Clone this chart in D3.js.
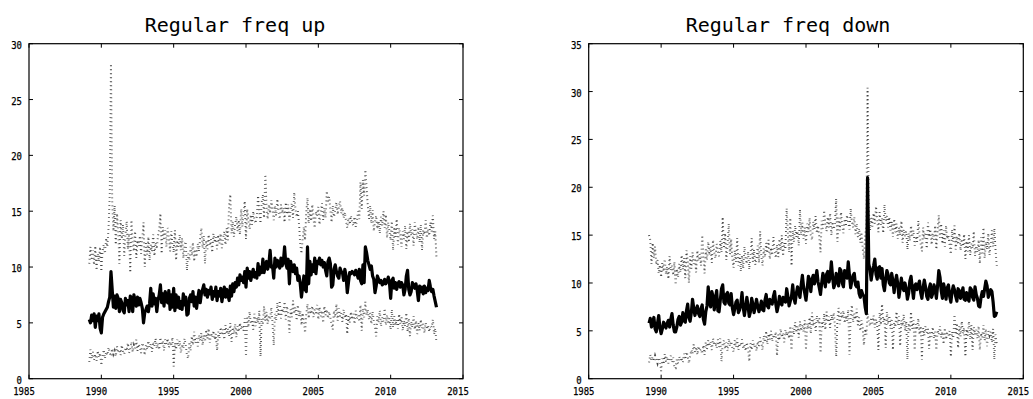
<!DOCTYPE html>
<html><head><meta charset="utf-8">
<script src="https://cdn.jsdelivr.net/npm/d3@7"></script>
<style>
body{margin:0;background:#fff}
svg{display:block}
</style></head><body>
<svg id="chart" width="1033" height="399"></svg>
<script>
// Monthly series, March 1989 through March 2013
const startYear = 1989, startMonth = 3;

// Regular freq up: mean with upper / lower bounds
const upMean = [
 5.3,5.0,5.7,5.2,5.8,4.6,5.6,5.2,5.8,4.5,
 4.1,5.5,5.8,6.0,6.2,6.4,6.9,7.3,9.6,8.0,6.4,7.4,
 6.3,7.5,7.2,6.0,7.1,6.8,6.1,5.9,7.2,6.6,7.0,6.0,
 7.4,7.2,6.0,7.5,7.0,6.5,7.3,6.6,7.2,6.8,6.3,5.0,
 5.9,6.2,6.5,6.0,6.7,8.1,6.5,7.6,6.7,7.2,6.0,7.0,
 7.5,8.4,6.8,7.6,6.5,7.8,7.1,6.8,7.9,6.2,7.5,6.4,
 8.1,6.1,7.5,6.4,7.3,6.3,6.9,6.2,7.6,6.6,7.3,5.7,
 5.8,7.2,7.5,6.9,7.8,6.5,7.3,6.3,7.2,7.9,6.8,7.6,
 8.0,8.4,7.5,8.0,7.3,7.9,7.6,8.2,7.1,7.8,7.4,8.2,
 7.0,7.8,7.4,8.1,6.9,7.6,8.2,7.3,8.0,7.5,7.0,8.3,
 7.4,8.5,7.8,8.6,8.2,9.0,8.4,9.3,8.8,9.1,8.6,9.6,
 8.2,9.9,9.0,9.6,8.8,9.4,9.8,9.1,9.5,9.0,10.3,9.3,
 10.0,9.5,10.7,9.5,10.2,10.5,9.8,10.3,11.5,10.0,10.1,9.0,
 10.8,10.0,10.6,10.3,9.9,10.8,10.1,10.5,11.8,10.3,9.9,10.7,
 8.5,10.5,10.0,9.6,10.2,9.4,9.9,8.8,9.2,8.5,7.3,8.2,
 9.2,8.0,7.8,11.8,8.5,10.5,9.3,10.2,9.6,10.8,9.4,10.5,
 10.3,10.8,10.2,10.6,10.0,10.4,9.7,9.2,10.5,10.8,10.3,8.2,
 8.4,9.8,10.2,9.6,9.2,9.0,9.9,9.6,9.5,8.8,9.8,9.2,
 7.7,8.6,9.5,9.4,9.6,9.5,9.3,9.7,9.4,9.0,9.8,8.8,
 8.5,10.2,8.6,11.8,11.3,10.6,10.2,9.8,10.1,9.2,8.9,7.7,
 8.3,9.2,8.9,8.6,8.8,8.4,8.5,8.9,8.5,8.7,9.1,8.6,
 7.2,8.8,9.0,8.1,8.6,8.0,8.5,8.7,8.2,8.6,8.4,7.5,
 8.0,9.2,9.7,8.0,7.5,7.8,8.6,8.4,8.1,8.5,7.9,7.0,
 8.3,7.8,8.2,7.6,8.3,7.7,8.1,7.9,8.8,8.2,7.8,8.0,
 7.4,6.9,6.4
];
const upHi = [
 10.3,11.8,10.6,11.5,10.2,11.9,9.7,11.2,10.5,11.8,
 9.6,11.4,12.0,11.2,12.6,11.8,13.5,16.5,28.2,16.0,13.2,15.5,
 12.0,14.8,13.4,10.3,14.2,12.5,13.8,11.0,12.9,14.1,11.6,13.0,
 9.5,14.2,12.1,11.4,13.2,10.8,12.4,11.9,12.8,11.2,12.6,14.0,
 10.0,12.3,11.1,12.7,10.6,12.0,11.4,12.9,11.0,12.2,11.6,12.8,
 13.4,14.8,11.2,13.6,12.4,13.3,11.8,13.5,12.7,11.4,13.2,12.1,
 11.3,13.3,10.6,12.4,11.8,12.9,11.5,12.6,10.8,11.9,12.3,9.7,
 11.2,10.6,11.8,11.0,12.2,10.5,11.6,10.9,12.1,11.4,12.6,13.5,
 11.7,12.8,10.3,12.4,11.6,12.9,11.9,12.5,11.3,13.0,12.2,12.7,
 11.6,12.9,12.1,13.0,11.7,12.6,13.2,12.0,13.5,12.4,15.6,16.5,
 13.0,14.1,12.7,13.8,14.5,13.2,14.2,12.9,15.2,13.6,14.8,15.9,
 12.5,15.2,14.1,13.4,14.7,13.8,15.0,14.2,13.9,14.6,16.4,15.1,
 13.9,15.8,16.5,14.4,18.3,15.4,14.3,15.6,14.8,16.0,15.2,14.2,
 15.5,14.6,16.1,15.0,14.3,15.6,14.8,15.3,14.0,15.8,14.7,15.6,
 14.2,15.1,15.7,14.4,16.7,15.2,14.5,15.0,13.8,12.0,11.2,12.5,
 13.6,12.4,14.8,16.2,13.9,15.2,14.1,15.6,14.3,13.5,15.0,14.6,
 15.4,13.8,14.9,15.7,14.2,15.3,14.4,16.8,15.9,16.3,15.1,14.0,
 15.5,14.5,15.1,15.8,14.7,15.4,15.9,14.8,15.3,14.4,14.9,14.1,
 13.5,14.4,13.8,14.6,14.0,13.7,14.5,13.6,14.2,15.0,14.3,17.6,
 15.2,17.8,16.4,18.7,17.2,15.6,14.3,15.5,13.9,15.1,13.2,14.0,
 14.6,13.4,14.1,13.0,14.5,13.7,15.0,13.5,14.7,12.6,14.0,13.2,
 12.4,14.1,11.5,13.6,12.7,14.3,12.0,13.5,12.9,11.8,13.2,12.5,
 13.7,11.6,13.2,12.2,13.9,12.8,13.4,11.9,14.0,13.1,12.5,13.6,
 12.2,13.8,11.5,13.3,12.9,14.2,12.6,13.4,12.8,14.0,13.2,14.6,
 12.5,13.2,10.9
];
const upLo = [
 1.5,2.6,1.8,2.4,1.7,2.2,1.6,2.5,1.9,2.3,
 1.2,2.0,2.6,1.8,2.4,2.1,2.8,2.3,2.0,2.7,2.2,2.5,
 2.0,2.9,2.3,2.6,2.1,3.0,2.4,2.2,2.8,2.5,3.2,2.3,
 2.6,3.3,2.4,3.0,2.7,3.5,2.5,3.1,2.8,2.3,3.2,2.9,
 2.1,3.0,2.6,3.4,2.8,3.1,2.4,3.3,2.9,3.6,2.7,3.2,
 2.6,3.7,3.0,3.4,2.5,3.5,3.1,3.6,2.8,3.3,2.9,3.7,
 1.1,3.2,2.6,3.5,2.9,3.4,2.3,3.1,2.7,3.6,3.0,2.1,
 1.8,3.3,2.5,3.8,3.0,4.2,3.2,3.6,2.9,3.9,3.4,4.1,
 3.0,3.9,3.3,4.4,3.6,4.5,3.2,4.1,3.7,4.3,3.5,4.0,
 2.5,4.2,3.6,4.6,3.9,4.4,3.5,4.8,4.0,4.5,3.8,5.0,
 3.3,4.6,4.0,4.9,3.7,4.7,4.2,5.0,4.4,4.8,4.3,5.4,
 2.0,5.6,4.6,6.0,4.9,5.3,4.4,5.8,4.7,5.5,5.0,6.1,
 2.0,5.4,4.8,6.5,5.2,6.0,4.9,5.7,5.3,6.4,5.0,3.0,
 5.8,5.2,6.8,5.6,7.0,5.4,6.3,5.9,6.9,5.3,6.5,5.7,
 4.1,6.2,5.5,7.0,5.8,6.4,5.2,6.6,5.6,6.1,4.8,5.9,
 5.1,4.1,5.7,6.7,5.4,6.3,5.8,6.5,5.5,6.2,5.9,6.6,
 5.3,6.4,5.6,6.1,5.0,6.5,5.7,6.2,5.4,6.0,5.5,4.8,
 4.4,6.1,5.5,6.7,5.2,6.3,5.6,5.9,5.1,6.2,5.4,5.8,
 4.0,5.6,5.0,6.0,5.3,5.8,4.9,6.1,5.4,5.7,5.1,6.6,
 4.3,6.3,5.5,6.9,5.7,6.2,5.3,5.9,4.9,6.0,5.2,4.6,
 3.8,5.6,5.0,6.1,4.7,5.5,5.1,6.3,4.8,5.7,4.9,5.4,
 4.4,6.2,4.6,5.6,4.8,5.3,4.5,5.8,4.9,5.5,4.3,5.2,
 4.7,5.9,4.2,5.4,3.8,5.1,4.6,5.6,4.4,5.2,4.0,5.0,
 4.3,5.3,4.5,4.9,4.1,5.0,4.4,4.8,4.2,4.7,4.6,5.3,
 4.0,4.5,3.2
];

// Regular freq down: mean with upper / lower bounds
const downMean = [
 5.8,6.3,5.4,5.9,6.4,5.2,4.9,5.8,6.6,5.3,
 4.7,5.2,5.9,5.6,5.3,5.8,6.1,5.4,6.2,6.8,5.6,4.9,
 4.9,5.4,6.2,6.5,5.6,5.9,6.9,6.1,5.9,7.1,7.8,6.4,
 6.0,6.9,8.3,7.4,6.6,7.2,7.6,6.8,6.5,7.3,7.7,6.2,
 5.7,7.0,7.6,9.6,8.0,7.5,9.1,8.6,7.2,8.4,9.2,7.1,
 7.0,8.2,9.4,9.8,8.0,7.8,8.8,9.0,7.9,7.7,8.9,7.4,
 6.7,7.3,8.0,8.2,6.9,7.2,7.8,9.0,7.4,6.6,7.5,8.5,
 7.6,6.5,7.0,8.4,7.8,6.9,7.5,8.3,7.6,7.0,7.4,8.1,
 7.2,7.1,8.2,8.8,7.6,7.4,8.3,8.0,7.8,8.6,9.1,7.8,
 7.0,7.6,8.6,7.9,7.7,8.5,8.2,8.0,9.4,8.6,7.6,8.1,
 8.6,9.8,8.4,7.9,8.9,9.6,9.0,8.5,9.8,10.8,9.6,8.9,
 8.2,9.4,10.7,10.3,9.1,10.4,10.8,9.9,10.5,11.3,10.1,9.5,
 8.8,10.0,11.0,10.4,9.6,10.9,11.2,10.1,10.6,12.2,10.7,9.5,
 9.9,11.0,10.4,9.7,11.5,11.3,10.0,9.6,11.3,10.8,10.5,12.2,
 10.8,9.5,10.2,10.8,11.0,9.8,9.6,10.1,8.9,8.5,9.2,8.8,
 8.6,7.5,6.8,21.0,12.0,11.4,10.3,11.2,11.8,12.5,10.9,10.4,
 11.6,11.7,10.5,11.5,9.8,9.2,10.4,11.3,10.9,10.0,9.8,11.0,
 10.2,9.0,10.1,10.8,9.9,8.5,9.4,10.5,9.6,9.2,10.0,9.4,
 8.3,8.9,10.2,10.7,9.5,8.4,9.7,9.9,9.3,9.8,10.2,9.0,
 8.4,9.5,10.3,9.6,8.6,8.3,9.4,9.9,8.5,8.9,9.8,9.4,
 8.4,9.7,11.3,10.6,9.2,8.4,9.9,9.3,8.3,9.5,9.8,8.6,
 8.0,9.1,9.7,9.3,8.6,8.1,9.4,9.2,8.4,8.9,9.5,8.3,
 8.2,9.0,8.4,8.1,9.5,9.3,8.5,8.2,9.6,8.8,8.4,7.6,
 7.5,8.5,9.1,8.6,9.4,10.2,9.7,8.5,8.9,9.3,9.1,8.0,
 6.5,6.6,7.0
];
const downHi = [
 15.0,14.5,12.0,14.2,12.6,13.8,11.9,12.4,11.0,11.9,
 10.6,12.1,11.2,12.5,10.9,11.7,10.4,12.8,11.3,11.8,10.8,12.2,
 9.8,11.5,10.6,12.0,11.1,12.9,11.4,12.6,10.5,13.4,12.2,10.0,
 12.8,11.5,13.2,12.0,12.6,11.1,13.4,12.3,13.0,11.8,15.0,12.6,
 11.0,13.5,12.4,14.3,12.9,13.8,12.1,14.5,13.2,12.6,14.1,13.3,
 12.8,14.4,13.2,16.9,13.6,15.2,12.4,14.0,16.2,13.0,14.6,12.6,
 11.6,13.4,12.2,14.7,11.8,13.0,11.2,12.9,11.5,13.8,12.4,12.0,
 13.3,11.4,12.8,14.7,12.2,13.5,11.9,12.6,13.9,12.1,15.4,12.8,
 11.8,13.6,12.7,14.2,13.1,14.5,12.5,13.7,12.9,14.8,13.3,12.6,
 14.0,12.7,14.6,13.4,15.0,12.8,14.2,13.5,17.8,15.1,13.2,16.8,
 11.8,15.5,14.3,16.0,14.8,15.4,13.9,17.7,15.0,16.3,14.6,15.8,
 14.1,16.2,15.3,16.8,15.0,14.5,16.4,15.6,17.0,15.2,16.0,14.8,
 13.2,16.5,15.7,17.6,16.1,15.4,16.9,15.8,17.3,15.0,16.4,15.6,
 16.2,18.8,14.3,16.8,15.5,17.4,16.0,15.2,16.7,15.9,17.1,16.3,
 15.6,17.8,16.4,15.8,16.9,15.1,16.2,14.8,15.7,14.2,15.3,13.6,
 12.5,14.8,16.0,30.4,17.6,15.5,16.8,15.9,17.3,16.2,18.0,16.6,
 15.3,17.4,16.1,16.8,15.2,18.2,16.5,17.0,15.8,16.9,15.5,16.4,
 14.8,16.7,15.3,16.2,14.6,15.8,15.0,16.5,14.2,15.6,14.9,15.4,
 13.5,15.2,14.4,16.0,14.8,15.5,13.9,14.9,14.3,16.5,15.0,14.1,
 13.3,15.8,14.6,15.3,13.6,16.3,14.8,15.6,14.0,15.2,14.5,16.0,
 13.5,15.4,17.1,14.7,16.2,14.1,15.5,13.8,16.0,14.6,15.0,13.9,
 13.0,15.6,14.3,16.0,13.5,14.9,14.0,15.2,13.4,14.6,13.8,15.1,
 12.5,14.4,13.3,15.0,12.9,14.1,13.6,15.4,12.8,13.9,13.2,14.5,
 12.0,14.8,13.1,15.8,12.6,14.3,13.5,15.2,12.9,14.0,15.5,13.8,
 15.7,13.4,11.8
];
const downLo = [
 1.7,2.5,1.9,2.3,1.8,2.4,2.0,1.6,2.2,1.9,
 0.8,2.1,1.5,2.6,1.8,2.3,1.6,2.0,2.4,1.7,2.2,1.1,
 1.1,2.0,1.6,2.3,1.9,2.2,1.7,2.6,2.0,2.8,2.4,1.6,
 2.3,3.0,2.6,3.6,2.8,3.3,2.5,3.4,2.9,3.1,2.6,3.5,
 2.5,3.8,3.1,4.0,3.4,3.9,3.0,4.2,3.5,3.8,3.2,4.1,
 3.3,4.2,1.8,3.6,4.0,3.1,3.8,2.9,4.2,3.4,3.9,3.2,
 2.8,4.0,3.3,4.2,3.0,3.7,3.4,4.1,3.1,3.6,2.9,3.8,
 3.2,1.8,3.7,3.0,4.0,3.3,3.6,2.9,3.9,3.4,4.3,3.7,
 3.0,4.5,3.8,5.0,3.6,4.7,4.1,5.0,3.9,4.6,4.3,4.9,
 2.4,4.6,4.0,5.2,4.3,4.8,3.8,5.1,4.5,4.9,4.2,5.5,
 3.0,5.3,4.6,5.9,4.8,5.5,4.3,6.0,5.0,5.7,4.9,6.1,
 3.0,5.8,5.2,6.4,4.7,6.9,5.5,6.2,5.0,6.6,5.8,6.3,
 2.7,6.0,5.4,6.8,5.1,7.0,5.9,6.5,5.3,6.7,6.1,6.9,
 5.5,2.3,6.2,7.4,5.7,6.9,6.3,7.1,5.8,6.6,6.0,7.2,
 2.5,6.5,7.7,5.9,6.8,6.2,7.3,5.6,6.4,5.0,6.1,5.4,
 3.5,5.2,4.6,6.8,6.0,5.5,6.4,5.8,6.6,5.3,6.2,5.7,
 3.0,6.9,5.6,7.8,5.9,6.4,3.2,7.0,5.7,6.6,5.2,6.3,
 3.0,5.9,5.4,7.0,5.6,6.5,3.4,6.1,5.5,6.7,5.0,6.0,
 2.0,5.8,4.9,7.0,5.2,6.1,3.0,5.7,5.1,6.3,4.6,5.5,
 2.0,5.3,4.5,5.5,4.8,5.2,3.1,5.0,4.4,5.4,4.2,4.9,
 3.0,5.1,4.6,5.5,4.3,4.9,3.6,5.3,4.1,4.8,4.5,5.0,
 2.3,4.9,4.2,6.7,4.6,5.8,3.2,5.5,4.4,6.0,4.7,5.3,
 2.3,5.2,4.5,6.0,4.1,5.6,3.0,5.4,4.6,5.1,4.2,5.5,
 3.0,4.8,4.3,5.6,4.0,5.2,3.4,5.0,4.5,4.9,3.8,5.2,
 2.0,4.6,3.6
];

const xTicks = [1985, 1990, 1995, 2000, 2005, 2010, 2015];
const upYTicks = [0, 5, 10, 15, 20, 25, 30];
const downYTicks = [0, 5, 10, 15, 20, 25, 30, 35];

const panels = [
  { title: "Regular freq up", mean: upMean, hi: upHi, lo: upLo,
    yMax: 30, yTicks: upYTicks, left: 29, right: 463, titleX: 235 },
  { title: "Regular freq down", mean: downMean, hi: downHi, lo: downLo,
    yMax: 35, yTicks: downYTicks, left: 588.7, right: 1023.3, titleX: 788 }
];

const plotTop = 43.7, plotBottom = 378.7, tickLen = 4;
const svg = d3.select("#chart");
const monthTime = i => startYear + (startMonth - 1 + i) / 12;
const digitW = 5.4;
const labelFont = "'DejaVu Sans Mono', monospace";

panels.forEach((p, pi) => {
  const x = d3.scaleLinear().domain([1985, 2015]).range([p.left, p.right]);
  const y = d3.scaleLinear().domain([0, p.yMax]).range([plotBottom, plotTop]);
  const g = svg.append("g");

  const line = d3.line()
    .x((d, i) => x(monthTime(i)))
    .y(d => y(d));

  // bounds drawn dotted
  [p.hi, p.lo].forEach(s => {
    g.append("path").datum(s).attr("d", line)
      .attr("fill", "none").attr("stroke", "#444")
      .attr("stroke-width", 2).attr("stroke-dasharray", "0.8,3.2");
  });
  // mean drawn solid
  g.append("path").datum(p.mean).attr("d", line)
    .attr("fill", "none").attr("stroke", "#000")
    .attr("stroke-width", 3.2).attr("stroke-linejoin", "round");

  // frame
  g.append("rect").attr("x", p.left).attr("y", plotTop)
    .attr("width", p.right - p.left).attr("height", plotBottom - plotTop)
    .attr("fill", "none").attr("stroke", "#000").attr("stroke-width", 1.2);

  // inward ticks on all four sides
  xTicks.forEach(t => {
    const xx = x(t);
    g.append("line").attr("x1", xx).attr("x2", xx).attr("y1", plotBottom).attr("y2", plotBottom - tickLen).attr("stroke", "#000");
    g.append("line").attr("x1", xx).attr("x2", xx).attr("y1", plotTop).attr("y2", plotTop + tickLen).attr("stroke", "#000");
  });
  p.yTicks.forEach(t => {
    const yy = y(t);
    g.append("line").attr("x1", p.left).attr("x2", p.left + tickLen).attr("y1", yy).attr("y2", yy).attr("stroke", "#000");
    g.append("line").attr("x1", p.right).attr("x2", p.right - tickLen).attr("y1", yy).attr("y2", yy).attr("stroke", "#000");
  });

  // x tick labels
  xTicks.forEach((t, i) => {
    const s = String(t);
    const w = s.length * digitW;
    let cx = x(t) - 5;
    if (cx - w / 2 < 0.5) cx = w / 2 + 0.5;
    g.append("text").attr("x", cx).attr("y", 395)
      .attr("text-anchor", "middle")
      .attr("font-family", labelFont).attr("font-size", 11)
      .attr("stroke", "#000").attr("stroke-width", 0.25)
      .attr("textLength", w).attr("lengthAdjust", "spacingAndGlyphs")
      .text(s);
  });
  // y tick labels
  p.yTicks.forEach(t => {
    const s = String(t);
    g.append("text").attr("x", p.left - 7).attr("y", y(t) + 5)
      .attr("text-anchor", "end")
      .attr("font-family", labelFont).attr("font-size", 11)
      .attr("stroke", "#000").attr("stroke-width", 0.25)
      .attr("textLength", s.length * digitW).attr("lengthAdjust", "spacingAndGlyphs")
      .text(s);
  });

  // title
  svg.append("text").attr("x", p.titleX).attr("y", 32)
    .attr("text-anchor", "middle")
    .attr("font-family", labelFont).attr("font-size", 20)
    .text(p.title);
});
</script>
</body></html>
